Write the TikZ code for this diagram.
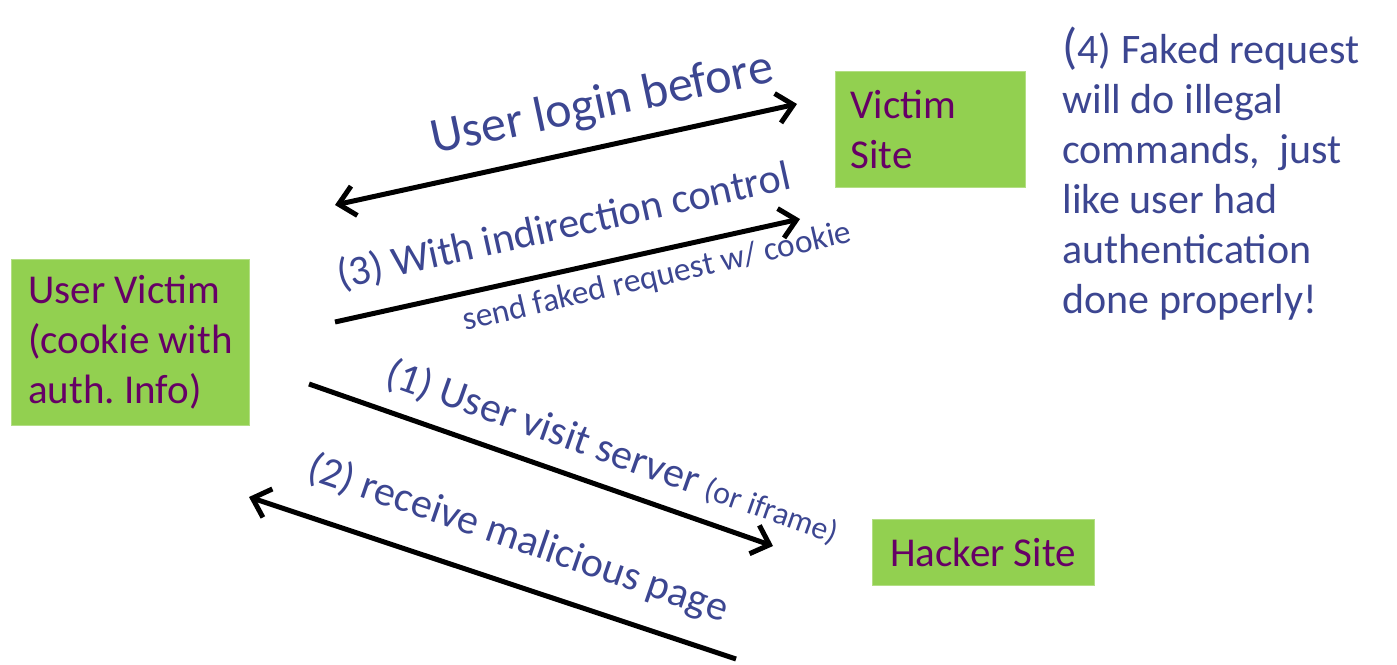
\documentclass[tikz,border=0pt]{standalone}
\usepackage{fontspec}
\setmainfont{Carlito}
\usetikzlibrary{arrows.meta}
\definecolor{boxgreen}{HTML}{92D050}
\definecolor{boxtext}{HTML}{660066}
\definecolor{labblue}{RGB}{60,70,145}
\frenchspacing
\tikzset{
  sitebox/.style={fill=boxgreen, draw=boxgreen!70!white, line width=0.5pt, text=boxtext, font=\fontsize{20.5}{25}\selectfont, align=left, anchor=north west, inner ysep=0pt},
  flow/.style={line width=2.5pt, draw=black},
  tipend/.style={-{Straight Barb[length=8pt,width=15pt,line width=2.5pt]}},
  tipboth/.style={{Straight Barb[length=8pt,width=15pt,line width=2.5pt]}-{Straight Barb[length=8pt,width=15pt,line width=2.5pt]}},
  lab/.style={text=labblue, inner sep=0pt, anchor=base west},
  big/.style={font=\fontsize{21}{25}\selectfont},
  small/.style={font=\fontsize{16.7}{19}\selectfont}
}
\begin{document}
\begin{tikzpicture}[x=0.5pt,y=-0.5pt]
\useasboundingbox (0,0) rectangle (1397,664);
% boxes
\node[sitebox, minimum width=119pt, minimum height=83pt, inner xsep=0pt] (uv) at (11,259) {User Victim\\(cookie with\\auth. Info)};
\node[sitebox, minimum width=94.5pt, minimum height=58pt, text width=80pt, inner xsep=7.5pt] (vs) at (835,71) {Victim\\Site};
\node[sitebox, minimum width=111pt, minimum height=33pt, align=center, inner xsep=0pt, anchor=center] (hs) at (983,552) {Hacker Site};
% arrow coordinates
\coordinate (l1a) at (335,205);
\coordinate (l1b) at (797,104);
\coordinate (l3a) at (335,322);
\coordinate (l3b) at (800,219);
\coordinate (l1s) at (309,384);
\coordinate (l1e) at (773,546);
\coordinate (l2s) at (736,659);
\coordinate (l2e) at (249,497);
\draw[flow, tipboth] (l1a) -- (l1b);
\draw[flow, tipend] (l3a) -- (l3b);
\draw[flow, tipend] (l1s) -- (l1e);
\draw[flow, tipend] (l2s) -- (l2e);
% labels
\node[lab, font=\fontsize{25}{30}\selectfont, rotate=12] (tlogin) at (434,154) {User login before};
\node[lab, big, rotate=12.5] (tind) at (340,289) {(3) With indirection control};
\node[lab, small, rotate=13] (tsend) at (465,331) {send faked request w/ cookie};
\node[lab, big, rotate=-19.5] (tvisit) at (383,384) {(1) User visit server {\fontsize{16}{19}\selectfont(or iframe)}};
\node[lab, big, rotate=-19] (trecv) at (305,478) {(2) receive malicious page};
\node[text=labblue, inner sep=0pt, align=left, anchor=north west, font=\fontsize{21}{25}\selectfont] (tfour) at (1062,27) {{\fontsize{25}{25}\selectfont(}4) Faked request\\will do illegal\\commands,\ \ just\\like user had\\authentication\\done properly!};
\end{tikzpicture}
\end{document}
